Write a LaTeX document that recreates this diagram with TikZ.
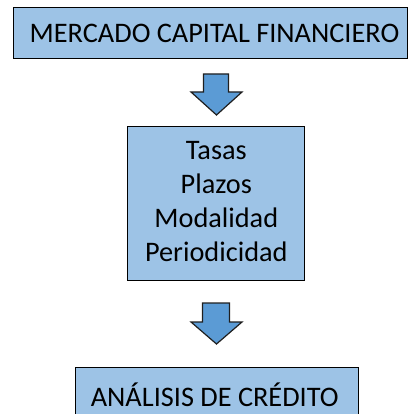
\documentclass[tikz,border=0pt]{standalone}
\usepackage{fontspec}
\setmainfont{Carlito}
\definecolor{boxfill}{HTML}{9DC3E6}
\definecolor{arrowfill}{HTML}{5B9BD5}
\definecolor{arrowline}{HTML}{1F1F1F}
\begin{document}
\begin{tikzpicture}[x=1pt,y=-1pt,
  blockbox/.style={draw=black, line width=1.4pt, fill=boxfill, inner sep=0pt, anchor=north west},
  blockarrow/.style={draw=arrowline, line width=1.2pt, fill=arrowfill, line join=miter},
  lbl/.style={font=\fontsize{28.3}{34}\selectfont, text=black, align=center, inner sep=0pt}]
\useasboundingbox (0,0) rectangle (409,414);
% boxes
\node[blockbox, minimum width=394pt, minimum height=51pt] (top) at (13,7) {};
\node[lbl, anchor=base] (toptext) at (214.5,42.3) {MERCADO CAPITAL FINANCIERO};
\node[blockbox, minimum width=177pt, minimum height=154pt] (mid) at (127,126) {};
\node[lbl] (midtext) at (216.3,202) {Tasas\\Plazos\\Modalidad\\Periodicidad};
\node[blockbox, minimum width=283pt, minimum height=60pt] (bot) at (75,367) {};
\node[lbl, anchor=base] (bottext) at (214.7,406) {ANÁLISIS DE CRÉDITO};
% arrows
\coordinate (a1) at (216.5,74);
\draw[blockarrow] ([xshift=-13pt]a1) -- ([xshift=12pt]a1) -- ++(0,18) -- ++(13.5,0) -- (216.5,115) -- (191,92) -- ++(12.5,0) -- cycle;
\coordinate (a2) at (216.5,303);
\draw[blockarrow] ([xshift=-14pt]a2) -- ([xshift=13pt]a2) -- ++(0,19) -- ++(12.5,0) -- (216.5,344) -- (191,322) -- ++(11.5,0) -- cycle;
\end{tikzpicture}
\end{document}
